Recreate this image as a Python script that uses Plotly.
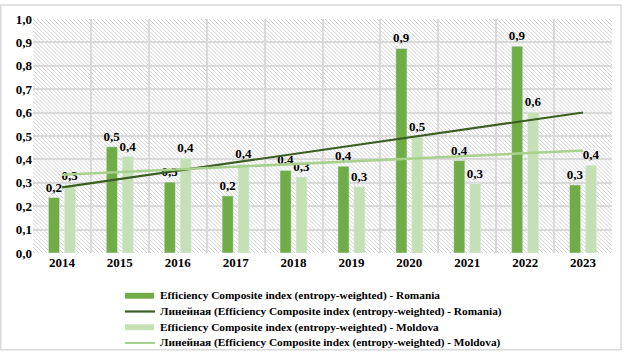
import base64
import numpy as np
import plotly.graph_objects as go

years = ["2014", "2015", "2016", "2017", "2018", "2019", "2020", "2021", "2022", "2023"]
romania = [0.237, 0.454, 0.303, 0.244, 0.353, 0.371, 0.874, 0.395, 0.884, 0.291]
moldova = [0.286, 0.412, 0.405, 0.379, 0.325, 0.283, 0.496, 0.297, 0.601, 0.375]
names = [
    "Efficiency Composite index (entropy-weighted) - Romania",
    "Линейная (Efficiency Composite index (entropy-weighted) - Romania)",
    "Efficiency Composite index (entropy-weighted) - Moldova",
    "Линейная (Efficiency Composite index (entropy-weighted) - Moldova)",
]

C_RO = "#70ad47"
C_RO_T = "#3b5e22"
C_MD = "#c5e0b4"
C_MD_T = "#a9d18e"
FONT = "Liberation Serif"

W, H = 625, 354
ML, MR, MT, MB = 33, 13, 15, 101
PW, PH = W - ML - MR, H - MT - MB


def px_x(p):
    return (p - ML) / PW


def px_y(p):
    return (H - MB - p) / PH


def lab(vals):
    return [f"{v:.1f}".replace(".", ",") for v in vals]


idx = np.arange(len(years))
tr_ro = np.polyval(np.polyfit(idx, romania, 1), idx)
tr_md = np.polyval(np.polyfit(idx, moldova, 1), idx)

lblfont = dict(family=FONT, size=13, color="black", weight="bold")
fig = go.Figure()
fig.add_trace(go.Bar(x=years, y=romania, name=names[0], marker_color=C_RO,
                     text=lab(romania), textposition="outside", cliponaxis=False,
                     constraintext="none", textfont=lblfont))
fig.add_trace(go.Bar(x=years, y=moldova, name=names[2], marker_color=C_MD,
                     text=lab(moldova), textposition="outside", cliponaxis=False,
                     constraintext="none", textfont=lblfont))
fig.add_trace(go.Scatter(x=years, y=tr_ro, mode="lines", name=names[1],
                         line=dict(color=C_RO_T, width=2.2)))
fig.add_trace(go.Scatter(x=years, y=tr_md, mode="lines", name=names[3],
                         line=dict(color=C_MD_T, width=2.5)))

# hatched plot background
svg = (f'<svg xmlns="http://www.w3.org/2000/svg" width="{PW}" height="{PH}" viewBox="0 0 {PW} {PH}">'
       '<defs><pattern id="h" patternUnits="userSpaceOnUse" width="4" height="4">'
       '<path d="M-1,-1 L5,5 M-1,3 L1,5 M3,-1 L5,1" stroke="#d2d2d2" stroke-width="1"/>'
       '</pattern></defs><rect x="0" y="0" width="{PW}" height="{PH}" fill="white"/>'
       f'<rect x="0" y="0" width="{PW}" height="{PH}" fill="url(#h)"/></svg>')
src = "data:image/svg+xml;base64," + base64.b64encode(svg.encode()).decode()
fig.add_layout_image(dict(source=src, xref="paper", yref="paper", x=0, y=1,
                          sizex=1, sizey=1, sizing="stretch", layer="below",
                          xanchor="left", yanchor="top", opacity=1))

# legend (custom, below plot)
rows_y = [296.5, 312.5, 328.5, 344.5]
shapes = []
annots = []
for i, nm in enumerate(names):
    yc = rows_y[i]
    if i in (0, 2):
        col = C_RO if i == 0 else C_MD
        shapes.append(dict(type="rect", xref="paper", yref="paper",
                           x0=px_x(125), x1=px_x(154), y0=px_y(yc + 3), y1=px_y(yc - 3),
                           fillcolor=col, line=dict(width=0)))
    else:
        col = C_RO_T if i == 1 else C_MD_T
        shapes.append(dict(type="line", xref="paper", yref="paper",
                           x0=px_x(125), x1=px_x(155), y0=px_y(yc), y1=px_y(yc),
                           line=dict(color=col, width=2.2)))
    annots.append(dict(text=nm, xref="paper", yref="paper", x=px_x(158), y=px_y(yc),
                       xanchor="left", yanchor="middle", showarrow=False,
                       font=dict(family=FONT, size=11.3, color="black", weight="bold")))

# outer border
shapes.append(dict(type="rect", xref="paper", yref="paper",
                   x0=px_x(0.75), x1=px_x(621), y0=px_y(351.5), y1=px_y(0.75),
                   line=dict(color="#d9d9d9", width=1.5), fillcolor="rgba(0,0,0,0)",
                   layer="below"))

fig.update_layout(
    width=W, height=H,
    margin=dict(l=ML, r=MR, t=MT, b=MB),
    paper_bgcolor="white", plot_bgcolor="rgba(0,0,0,0)",
    barmode="group", bargap=0.45, bargroupgap=0.3,
    showlegend=False, separators=", ",
    shapes=shapes, annotations=annots,
    font=dict(family=FONT, color="black"),
)
fig.update_xaxes(type="category", tickson="boundaries", showgrid=True,
                 gridcolor="#d9d9d9", gridwidth=1.5, ticks="", showline=False,
                 tickfont=dict(family=FONT, size=13, color="black", weight="bold"))
fig.update_yaxes(range=[0, 1], dtick=0.1, tickformat=".1f", showgrid=True,
                 gridcolor="#d9d9d9", gridwidth=1.5, zeroline=False, ticks="",
                 tickfont=dict(family=FONT, size=13, color="black", weight="bold"))

fig.write_html("out.html")
